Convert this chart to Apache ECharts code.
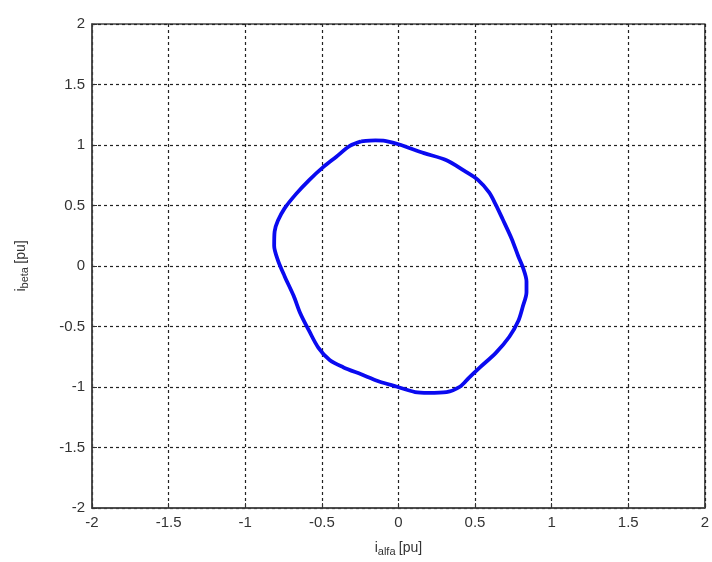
<!DOCTYPE html>
<html>
<head>
<meta charset="utf-8">
<script src="https://cdn.jsdelivr.net/npm/echarts@6/dist/echarts.min.js"></script>
<style>html,body{margin:0;padding:0;background:#fff}#c{width:712px;height:562px}</style>
</head>
<body>
<div id="c"></div>
<script>
const iAlfa = [-0.243,-0.15,-0.098,0,0.167,0.314,0.431,0.519,0.592,0.636,0.680,0.739,0.783,0.812,0.836,0.836,0.812,0.783,0.724,0.636,0.534,0.460,0.401,0.314,0.196,0.109,-0.009,-0.126,-0.243,-0.361,-0.449,-0.523,-0.581,-0.640,-0.684,-0.743,-0.787,-0.811,-0.808,-0.787,-0.743,-0.669,-0.581,-0.493,-0.405,-0.317,-0.243];
const iBeta = [1.030,1.038,1.036,1.006,0.933,0.874,0.786,0.712,0.608,0.505,0.388,0.226,0.078,-0.010,-0.128,-0.216,-0.334,-0.452,-0.585,-0.718,-0.836,-0.924,-0.998,-1.042,-1.048,-1.042,-0.998,-0.954,-0.895,-0.836,-0.777,-0.674,-0.541,-0.393,-0.246,-0.084,0.049,0.167,0.285,0.373,0.476,0.594,0.712,0.815,0.903,0.992,1.030];
const axisMin = -2, axisMax = 2, tickStep = 0.5;

const pts = iAlfa.map((x, i) => [x, iBeta[i]]);
const chart = echarts.init(document.getElementById('c'));
const labelStyle = {color: '#333', fontSize: 15, fontFamily: 'Liberation Sans, Arial, sans-serif'};
const gridLine = {show: true, lineStyle: {color: '#222', width: 1.2, type: [3, 3]}};
const richName = {
  i: {fontSize: 14, color: '#333', fontFamily: 'Liberation Sans, Arial'},
  sub: {fontSize: 11, color: '#333', fontFamily: 'Liberation Sans, Arial', verticalAlign: 'bottom', padding: [6,0,0,0]},
  n: {fontSize: 14, color: '#333', fontFamily: 'Liberation Sans, Arial'}
};
chart.setOption({
  animation: false,
  backgroundColor: '#fff',
  grid: {left: 92, right: 1, top: 24, bottom: 51, show: true, borderColor: '#444', borderWidth: 1.5, backgroundColor: 'transparent'},
  xAxis: {
    type: 'value', min: axisMin, max: axisMax, interval: tickStep,
    axisLine: {show: true, onZero: false, lineStyle: {color: '#444', width: 1.5}},
    axisTick: {show: true, inside: true, length: 5, lineStyle: {color: '#333'}},
    axisLabel: Object.assign({margin: 7}, labelStyle),
    splitLine: gridLine,
    name: '{i|i}{sub|alfa} {n|[pu]}',
    nameLocation: 'middle', nameGap: 32,
    nameTextStyle: {rich: richName}
  },
  yAxis: {
    type: 'value', min: axisMin, max: axisMax, interval: tickStep,
    axisLine: {show: true, onZero: false, lineStyle: {color: '#444', width: 1.5}},
    axisTick: {show: true, inside: true, length: 5, lineStyle: {color: '#333'}},
    axisLabel: Object.assign({margin: 7}, labelStyle),
    splitLine: gridLine,
    name: '{i|i}{sub|beta} {n|[pu]}',
    nameLocation: 'middle', nameGap: 62,
    nameTextStyle: {rich: richName}
  },
  series: [{
    type: 'line', data: pts, showSymbol: false, smooth: 0.3,
    lineStyle: {color: '#0a0af0', width: 3.8}
  }]
});
</script>
</body>
</html>
